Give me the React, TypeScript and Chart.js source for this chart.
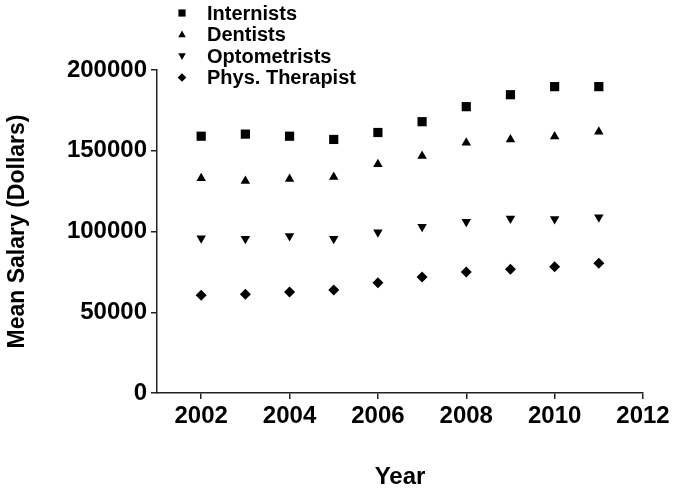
import React, { useEffect, useRef } from "react";
import { Chart, registerables } from "chart.js";

Chart.register(...registerables);

const years = [2002, 2003, 2004, 2005, 2006, 2007, 2008, 2009, 2010, 2011];
const xTicks = [2002, 2004, 2006, 2008, 2010, 2012];
const yTicks = [0, 50000, 100000, 150000, 200000];

const internists = [159000, 160300, 159000, 157000, 161300, 168000, 177300, 184700, 189700, 189700];
const dentists = [133000, 131200, 132500, 133700, 141600, 146700, 155000, 157000, 158900, 161800];
const optometrists = [95800, 95500, 97200, 95500, 99500, 103000, 106100, 108100, 107700, 108800];
const physTherapist = [60500, 61100, 62500, 63800, 68300, 71800, 74900, 76600, 78200, 80300];

const seriesLabels = ["Internists", "Dentists", "Optometrists", "Phys. Therapist"];

const FONT = "'Liberation Sans', Arial, Helvetica, sans-serif";

function drawMarker(ctx: CanvasRenderingContext2D, kind: number, x: number, y: number, s: number) {
  ctx.beginPath();
  if (kind === 0) {
    ctx.rect(x - s, y - s, 2 * s, 2 * s);
  } else if (kind === 1) {
    ctx.moveTo(x, y - s * 1.1);
    ctx.lineTo(x + s * 1.05, y + s * 0.75);
    ctx.lineTo(x - s * 1.05, y + s * 0.75);
  } else if (kind === 2) {
    ctx.moveTo(x, y + s * 1.1);
    ctx.lineTo(x + s * 1.05, y - s * 0.75);
    ctx.lineTo(x - s * 1.05, y - s * 0.75);
  } else {
    ctx.moveTo(x, y - s * 1.2);
    ctx.lineTo(x + s * 1.2, y);
    ctx.lineTo(x, y + s * 1.2);
    ctx.lineTo(x - s * 1.2, y);
  }
  ctx.closePath();
  ctx.fill();
}

const legendPlugin = {
  id: "customLegend",
  afterDraw(chart: any) {
    const ctx = chart.ctx as CanvasRenderingContext2D;
    ctx.save();
    ctx.fillStyle = "#000";
    ctx.font = `bold 20px ${FONT}`;
    ctx.textBaseline = "middle";
    ctx.textAlign = "left";
    chart.data.datasets.forEach((ds: any, i: number) => {
      const y = 13 + 21.5 * i;
      drawMarker(ctx, i, 182, y, 3.6);
      ctx.fillText(ds.label, 207, y + 1);
    });
    ctx.restore();
  },
};

export default function App() {
  const ref = useRef<HTMLCanvasElement | null>(null);

  useEffect(() => {
    if (!ref.current) return;
    const mk = (vals: number[]) => years.map((x, i) => ({ x, y: vals[i] }));
    const chart = new Chart(ref.current, {
      type: "scatter",
      data: {
        datasets: [
          { label: seriesLabels[0], data: mk(internists), pointStyle: "rect", pointRadius: 6.5, backgroundColor: "#000", borderColor: "#000", borderWidth: 0 },
          { label: seriesLabels[1], data: mk(dentists), pointStyle: "triangle", pointRadius: 5.5, backgroundColor: "#000", borderColor: "#000", borderWidth: 0 },
          { label: seriesLabels[2], data: mk(optometrists), pointStyle: "triangle", rotation: 180, pointRadius: 5.5, backgroundColor: "#000", borderColor: "#000", borderWidth: 0 },
          { label: seriesLabels[3], data: mk(physTherapist), pointStyle: "rectRot", pointRadius: 5.5, backgroundColor: "#000", borderColor: "#000", borderWidth: 0 },
        ] as any,
      },
      options: {
        responsive: false,
        animation: false,
        devicePixelRatio: 1,
        layout: { padding: { top: 70, right: 47, bottom: 0, left: 0 } },
        plugins: { legend: { display: false }, tooltip: { enabled: false } },
        scales: {
          x: {
            type: "linear",
            min: 2001,
            max: 2012,
            afterBuildTicks: (scale: any) => {
              scale.ticks = xTicks.map((v) => ({ value: v }));
            },
            afterFit: (scale: any) => {
              scale.height = 97;
            },
            border: { display: true, color: "#222", width: 1.5 },
            grid: { display: true, drawOnChartArea: false, drawTicks: true, tickLength: 6, color: "#222", lineWidth: 1.5 },
            ticks: {
              color: "#000",
              font: { family: FONT, size: 24, weight: "bold" },
              padding: 3,
              maxRotation: 0,
              callback: (v: any) => String(v),
            },
            title: {
              display: true,
              text: "Year",
              color: "#000",
              font: { family: FONT, size: 24, weight: "bold", lineHeight: 1 },
              padding: { top: 0, bottom: 1 },
            },
          },
          y: {
            type: "linear",
            min: 0,
            max: 200000,
            afterBuildTicks: (scale: any) => {
              scale.ticks = yTicks.map((v) => ({ value: v }));
            },
            afterFit: (scale: any) => {
              scale.width = 157;
            },
            border: { display: true, color: "#222", width: 1.5 },
            grid: { display: true, drawOnChartArea: false, drawTicks: true, tickLength: 6, color: "#222", lineWidth: 1.5 },
            ticks: {
              color: "#000",
              font: { family: FONT, size: 24, weight: "bold" },
              padding: 4,
              callback: (v: any) => String(v),
            },
            title: {
              display: true,
              text: "Mean Salary (Dollars)",
              color: "#000",
              font: { family: FONT, size: 23, weight: "bold", lineHeight: 1 },
              padding: { top: 6, bottom: 0 },
            },
          },
        },
      },
      plugins: [legendPlugin],
    });
    return () => chart.destroy();
  }, []);

  return (
    <div style={{ position: "fixed", left: 0, top: 0, width: 690, height: 490, background: "#fff" }}>
      <canvas ref={ref} width={690} height={490} style={{ width: 690, height: 490, display: "block" }} />
    </div>
  );
}
